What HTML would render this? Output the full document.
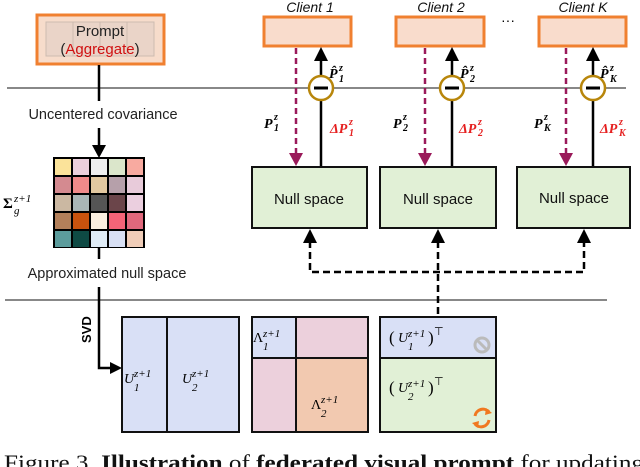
<!DOCTYPE html>
<html><head><meta charset="utf-8"><style>
html,body{margin:0;padding:0;background:#fff;width:640px;height:467px;overflow:hidden}
svg{display:block}
.s{font-family:"Liberation Sans",sans-serif}
.m{font-family:"Liberation Serif",serif;font-style:italic}
</style></head><body>
<svg width="640" height="467" viewBox="0 0 640 467" xmlns="http://www.w3.org/2000/svg">
<!-- horizontal grey lines -->
<line x1="7" y1="88" x2="626" y2="88" stroke="#888" stroke-width="2"/>
<line x1="5" y1="300" x2="607" y2="300" stroke="#888" stroke-width="2"/>
<!-- prompt box -->
<rect x="37" y="15" width="127" height="49" fill="#f7dccb" stroke="#f08030" stroke-width="3"/>
<g fill="#ead4c8" stroke="#cdbbb0" stroke-width="1">
<rect x="46" y="22" width="27" height="34"/><rect x="73" y="22" width="27" height="34"/><rect x="100" y="22" width="27" height="34"/><rect x="127" y="22" width="27" height="34"/>
</g>
<text x="100" y="36" class="s" font-size="15" text-anchor="middle" fill="#222">Prompt</text>
<text x="100" y="54" class="s" font-size="15" text-anchor="middle" fill="#222">(<tspan fill="#d01010">Aggregate</tspan>)</text>
<line x1="99" y1="65" x2="99" y2="101" stroke="#000" stroke-width="2.5"/>
<text x="103" y="119" class="s" font-size="14.5" text-anchor="middle" fill="#222">Uncentered covariance</text>
<line x1="99" y1="128" x2="99" y2="148" stroke="#000" stroke-width="2.5"/>
<path d="M92,145 L106,145 L99,158z" fill="#000"/>
<!-- matrix -->
<rect x="53" y="157" width="92" height="91" fill="#000"/>
<g>
<rect x="55" y="159" width="16" height="16" fill="#fbe39a"/><rect x="73" y="159" width="16" height="16" fill="#ecd0dc"/><rect x="91" y="159" width="16" height="16" fill="#eeeeee"/><rect x="109" y="159" width="16" height="16" fill="#dbe6cb"/><rect x="127" y="159" width="16" height="16" fill="#f8aaa0"/>
<rect x="55" y="177" width="16" height="16" fill="#d48a90"/><rect x="73" y="177" width="16" height="16" fill="#f08a8a"/><rect x="91" y="177" width="16" height="16" fill="#e2c8a0"/><rect x="109" y="177" width="16" height="16" fill="#b6a0aa"/><rect x="127" y="177" width="16" height="16" fill="#e8cbda"/>
<rect x="55" y="195" width="16" height="16" fill="#cbb8a2"/><rect x="73" y="195" width="16" height="16" fill="#aab6b6"/><rect x="91" y="195" width="16" height="16" fill="#555"/><rect x="109" y="195" width="16" height="16" fill="#6b454a"/><rect x="127" y="195" width="16" height="16" fill="#ebcfdf"/>
<rect x="55" y="213" width="16" height="16" fill="#b3805a"/><rect x="73" y="213" width="16" height="16" fill="#c9530e"/><rect x="91" y="213" width="16" height="16" fill="#fbefe0"/><rect x="109" y="213" width="16" height="16" fill="#f46478"/><rect x="127" y="213" width="16" height="16" fill="#e0687c"/>
<rect x="55" y="231" width="16" height="16" fill="#5c9c9c"/><rect x="73" y="231" width="16" height="16" fill="#0e4a44"/><rect x="91" y="231" width="16" height="16" fill="#e0ecf6"/><rect x="109" y="231" width="16" height="16" fill="#d8e0f4"/><rect x="127" y="231" width="16" height="16" fill="#f0cdb8"/>
</g>
<text x="3" y="208" font-family="Liberation Serif,serif" font-size="15" font-weight="bold">Σ</text>
<text x="14" y="202" class="m" font-size="11">z+1</text>
<text x="14" y="214" class="m" font-size="11">g</text>
<line x1="99" y1="248" x2="99" y2="259" stroke="#000" stroke-width="2.5"/>
<text x="107" y="278" class="s" font-size="14.5" text-anchor="middle" fill="#222">Approximated null space</text>
<path d="M99,287 L99,368 L113,368" fill="none" stroke="#000" stroke-width="2.5"/>
<path d="M110,362 L122,368 L110,374z" fill="#000"/>
<text x="0" y="0" class="s" font-size="13" font-weight="bold" transform="translate(91,343) rotate(-90)">SVD</text>
<!-- clients -->
<g class="s" font-size="14" font-style="italic" text-anchor="middle" fill="#111">
<text x="310" y="12">Client 1</text><text x="441" y="12">Client 2</text><text x="583" y="12">Client K</text>
</g>
<text x="508" y="25" class="s" font-size="14" text-anchor="middle">···</text>
<g fill="#f9dccc" stroke="#f08030" stroke-width="3">
<rect x="264" y="17" width="87" height="29"/><rect x="396" y="17" width="88" height="29"/><rect x="539" y="17" width="87" height="29"/>
</g>
<g stroke="#9a1a5a" stroke-width="2.5" stroke-dasharray="6,4">
<line x1="296" y1="48" x2="296" y2="154"/><line x1="425" y1="48" x2="425" y2="154"/><line x1="566" y1="48" x2="566" y2="154"/>
</g>
<g fill="#9a1a5a">
<path d="M289,153 L303,153 L296,166z"/><path d="M418,153 L432,153 L425,166z"/><path d="M559,153 L573,153 L566,166z"/>
</g>
<g stroke="#000" stroke-width="2.5">
<line x1="321" y1="166" x2="321" y2="58"/><line x1="452" y1="166" x2="452" y2="58"/><line x1="593" y1="166" x2="593" y2="58"/>
</g>
<g fill="#000">
<path d="M314,61 L328,61 L321,47z"/><path d="M445,61 L459,61 L452,47z"/><path d="M586,61 L600,61 L593,47z"/>
</g>
<g fill="#fff" stroke="#b8860b" stroke-width="2.5">
<circle cx="321" cy="88" r="12"/><circle cx="452" cy="88" r="12"/><circle cx="593" cy="88" r="12"/>
</g>
<g stroke="#000" stroke-width="3">
<line x1="314" y1="88" x2="328" y2="88"/><line x1="445" y1="88" x2="459" y2="88"/><line x1="586" y1="88" x2="600" y2="88"/>
</g>
<g class="m" font-size="14" font-weight="bold">
<text x="329" y="78">P̂</text><text x="460" y="78">P̂</text><text x="600" y="78">P̂</text>
<text x="264" y="128">P</text><text x="393" y="128">P</text><text x="534" y="128">P</text>
<text x="330" y="133" fill="#e52020">ΔP</text><text x="459" y="133" fill="#e52020">ΔP</text><text x="600" y="133" fill="#e52020">ΔP</text>
</g>
<g class="m" font-size="10" font-weight="bold">
<text x="339" y="71">z</text><text x="339" y="82">1</text>
<text x="470" y="71">z</text><text x="470" y="82">2</text>
<text x="610" y="71">z</text><text x="610" y="82">K</text>
<text x="274" y="120">z</text><text x="274" y="131">1</text>
<text x="403" y="120">z</text><text x="403" y="131">2</text>
<text x="544" y="120">z</text><text x="544" y="131">K</text>
<text x="349" y="125" fill="#e52020">z</text><text x="349" y="136" fill="#e52020">1</text>
<text x="478" y="125" fill="#e52020">z</text><text x="478" y="136" fill="#e52020">2</text>
<text x="619" y="125" fill="#e52020">z</text><text x="619" y="136" fill="#e52020">K</text>
</g>
<!-- null space boxes -->
<g fill="#e1f0d6" stroke="#111" stroke-width="2">
<rect x="252" y="167" width="115" height="61"/><rect x="380" y="167" width="116" height="61"/><rect x="517" y="167" width="113" height="61"/>
</g>
<g class="s" font-size="15" text-anchor="middle" fill="#111">
<text x="309" y="204">Null space</text><text x="438" y="204">Null space</text><text x="574" y="203">Null space</text>
</g>
<!-- dashed black -->
<g stroke="#000" stroke-width="2.5" stroke-dasharray="7,4" fill="none">
<path d="M310,241 L310,272 L584,272 L584,241"/>
<line x1="438" y1="241" x2="438" y2="316"/>
</g>
<g fill="#000">
<path d="M303,243 L317,243 L310,229z"/><path d="M431,243 L445,243 L438,229z"/><path d="M577,243 L591,243 L584,229z"/>
</g>
<!-- bottom boxes -->
<g stroke="#111" stroke-width="2">
<rect x="122" y="317" width="45" height="115" fill="#d9e0f6"/>
<rect x="167" y="317" width="72" height="115" fill="#d9e0f6"/>
<rect x="252" y="317" width="44" height="41" fill="#d9e0f6"/>
<rect x="296" y="317" width="72" height="41" fill="#ecd0dc"/>
<rect x="252" y="358" width="44" height="74" fill="#ecd0dc"/>
<rect x="296" y="358" width="72" height="74" fill="#f2c9b0"/>
<rect x="380" y="317" width="116" height="41" fill="#d9e0f6"/>
<rect x="380" y="358" width="116" height="74" fill="#e1f0d6"/>
</g>
<g class="m" font-size="14">
<text x="124" y="383">U</text><text x="134" y="377" font-size="11">z+1</text><text x="134" y="391" font-size="11">1</text>
<text x="182" y="383">U</text><text x="192" y="377" font-size="11">z+1</text><text x="192" y="391" font-size="11">2</text>
<text x="253" y="342" font-style="normal">Λ</text><text x="263" y="337" font-size="11">z+1</text><text x="263" y="350" font-size="11">1</text>
<text x="311" y="409" font-style="normal">Λ</text><text x="321" y="403" font-size="11">z+1</text><text x="321" y="417" font-size="11">2</text>
<text x="389" y="343" font-style="normal" font-size="17">(</text><text x="398" y="342">U</text><text x="408" y="337" font-size="11">z+1</text><text x="408" y="350" font-size="11">1</text><text x="428" y="343" font-style="normal" font-size="17">)</text><text x="434" y="335" font-style="normal" font-size="11">⊤</text>
<text x="389" y="393" font-style="normal" font-size="17">(</text><text x="398" y="392">U</text><text x="408" y="387" font-size="11">z+1</text><text x="408" y="400" font-size="11">2</text><text x="428" y="393" font-style="normal" font-size="17">)</text><text x="434" y="385" font-style="normal" font-size="11">⊤</text>
</g>
<circle cx="482" cy="345" r="7" fill="none" stroke="#bbb" stroke-width="3"/>
<line x1="477" y1="340" x2="487" y2="350" stroke="#bbb" stroke-width="3"/>
<path d="M475,416 A8,8 0 0 1 489,412" fill="none" stroke="#f07820" stroke-width="3"/>
<path d="M486,408 L492,413 L485,415z" fill="#f07820"/>
<path d="M489,420 A8,8 0 0 1 475,424" fill="none" stroke="#f07820" stroke-width="3"/>
<path d="M478,428 L472,423 L479,421z" fill="#f07820"/>
<!-- caption -->
<text x="4" y="470" font-family="Liberation Serif,serif" font-size="22" fill="#111" textLength="640" lengthAdjust="spacingAndGlyphs">Figure 3. <tspan font-weight="bold">Illustration</tspan> of <tspan font-weight="bold">federated visual prompt</tspan> for updating</text>
</svg>
</body></html>
